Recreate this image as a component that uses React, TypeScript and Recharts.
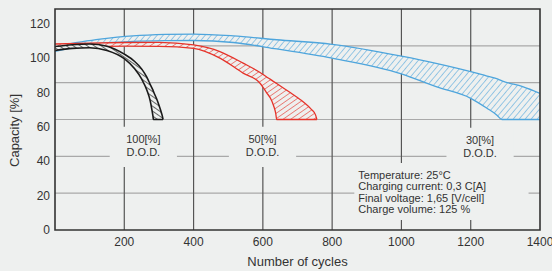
import React from 'react';
import { AreaChart, Area, XAxis, YAxis, CartesianGrid, ReferenceArea } from 'recharts';

const BG = '#eef0ef';
const FONT = '"Liberation Sans", Arial, Helvetica, sans-serif';
const TEXT = '#333333';

// Cycle life bands (capacity % vs number of cycles), lower / upper boundary
const blackCycles = [0, 50, 100, 150, 200, 230, 250, 265, 275, 280, 283, 284, 295, 305, 309, 312];
const blackLow = [97.5, 98.6, 99, 97.5, 93, 87.5, 82, 76, 70, 65, 61.5, 60, 60, 60, 60, 60];
const blackHigh = [99.6, 100.6, 101, 99.8, 95.5, 91.5, 87.5, 83, 79, 77, 75.8, 75.3, 70.5, 65, 62.5, 60];

const redCycles = [0, 100, 200, 300, 400, 476, 543, 592, 611, 622, 631, 637, 640, 680, 717, 740, 752, 756];
const redLow = [98.3, 99.5, 99.8, 99.7, 98.6, 93.3, 85.2, 79.7, 74.5, 71.5, 67.5, 63.5, 60, 60, 60, 60, 60, 60];
const redHigh = [101, 101.5, 101.8, 101.9, 100.5, 96.9, 90.6, 85.5, 83.1, 81.8, 80.6, 79.9, 79.5, 74.5, 69.5, 65.5, 62.5, 60];

const blueCycles = [0, 130, 225, 320, 400, 515, 640, 800, 1000, 1100, 1200, 1247, 1275, 1290, 1350, 1400];
const blueLow = [97, 101.3, 102.4, 102.8, 102.9, 101.8, 98.3, 93.3, 84.8, 77.8, 71.5, 66.1, 62.5, 60, 60, 60];
const blueHigh = [99.8, 103.6, 105.4, 106.2, 106.4, 105.4, 103.3, 100.8, 94.4, 90.5, 86, 83.6, 82.2, 81, 77.8, 74.2];

const xTicks = [200, 400, 600, 800, 1000, 1200, 1400];
const xGrid = [200, 400, 600, 800, 1000, 1200];
const yTicks = [0, 20, 40, 60, 80, 100, 120];
const yGrid = [20, 40, 60, 80, 100];

const label100 = ['100[%]', 'D.O.D.'];
const label50 = ['50[%]', 'D.O.D.'];
const label30 = ['30[%]', 'D.O.D.'];
const conditions = [
  'Temperature: 25°C',
  'Charging current: 0,3 C[A]',
  'Final voltage: 1,65 [V/cell]',
  'Charge volume: 125 %',
];

const build = (xs: number[], lo: number[], hi: number[]) =>
  xs.map((x, i) => ({ x, band: [lo[i], hi[i]] }));

const blackData = build(blackCycles, blackLow, blackHigh);
const redData = build(redCycles, redLow, redHigh);
const blueData = build(blueCycles, blueLow, blueHigh);

const DodLabel = (props: any) => {
  const { viewBox, lines } = props;
  if (!viewBox) return null;
  const { x, y, width } = viewBox;
  const cx = x + width / 2;
  return (
    <text fontSize={11} fill={TEXT} fontFamily={FONT} textAnchor="middle">
      {lines.map((l: string, i: number) => (
        <tspan key={i} x={cx} y={y + 16 + i * 13}>
          {l}
        </tspan>
      ))}
    </text>
  );
};

const CondLabel = (props: any) => {
  const { viewBox, lines } = props;
  if (!viewBox) return null;
  const { x, y } = viewBox;
  return (
    <text fontSize={11} fill={TEXT} fontFamily={FONT} textAnchor="start">
      {lines.map((l: string, i: number) => (
        <tspan key={i} x={x + 4} y={y + 16 + i * 11.5}>
          {l}
        </tspan>
      ))}
    </text>
  );
};

const YTitle = (props: any) => {
  const { viewBox } = props;
  if (!viewBox) return null;
  const cx = Math.max(viewBox.x, 0) + 14;
  const cy = viewBox.y + viewBox.height / 2 + 11;
  return (
    <text
      x={cx}
      y={cy}
      transform={`rotate(-90, ${cx}, ${cy})`}
      textAnchor="middle"
      dominantBaseline="central"
      fontSize={13}
      fill={TEXT}
      fontFamily={FONT}
    >
      Capacity [%]
    </text>
  );
};

export default function App() {
  return (
    <div style={{ position: 'absolute', left: 0, top: 0, width: 552, height: 271, background: BG }}>
      <AreaChart width={552} height={271} margin={{ top: 9, right: 12, left: 0, bottom: 0 }}>
        <defs>
          <pattern id="hatchBlue" width="4.6" height="4.6" patternUnits="userSpaceOnUse" patternTransform="rotate(40)">
            <rect width="4.6" height="4.6" fill={BG} />
            <line x1="0" y1="0" x2="0" y2="4.6" stroke="#4ea5dc" strokeWidth="1.1" />
          </pattern>
          <pattern id="hatchRed" width="4.4" height="4.4" patternUnits="userSpaceOnUse" patternTransform="rotate(55)">
            <rect width="4.4" height="4.4" fill={BG} />
            <line x1="0" y1="0" x2="0" y2="4.4" stroke="#e5332a" strokeWidth="1.1" />
          </pattern>
          <pattern id="hatchBlack" width="4" height="4" patternUnits="userSpaceOnUse" patternTransform="rotate(-55)">
            <rect width="4" height="4" fill={BG} />
            <line x1="0" y1="0" x2="0" y2="4" stroke="#1a1a1a" strokeWidth="1.3" />
          </pattern>
        </defs>
        <CartesianGrid yAxisId="g" vertical={false} horizontalValues={yGrid} stroke="#a9a9a9" strokeWidth={1.2} />
        <CartesianGrid yAxisId="g" horizontal={false} verticalValues={xGrid} stroke="#555555" strokeWidth={1.2} />
        <XAxis
          dataKey="x"
          type="number"
          domain={[0, 1400]}
          allowDataOverflow
          ticks={xTicks}
          interval={0}
          height={41}
          axisLine={false}
          tickLine={false}
          tickSize={0}
          tickMargin={7}
          tick={{ fontSize: 12, fill: TEXT, fontFamily: FONT }}
          label={{ value: 'Number of cycles', position: 'insideBottom', offset: 5, fontSize: 13, fill: TEXT, fontFamily: FONT }}
        />
        <YAxis
          yAxisId="lbl"
          type="number"
          domain={[0, 128.5]}
          allowDataOverflow
          ticks={yTicks}
          interval={0}
          width={55}
          axisLine={false}
          tickLine={false}
          tickSize={0}
          tickMargin={5}
          tick={{ fontSize: 12, fill: TEXT, fontFamily: FONT }}
          label={<YTitle />}
        />
        <YAxis yAxisId="g" type="number" domain={[0, 120]} allowDataOverflow hide width={0} />
        <ReferenceArea yAxisId="g" x1={158} x2={352} y1={34.2} y2={56} fill={BG} fillOpacity={1} stroke="none" label={<DodLabel lines={label100} />} />
        <ReferenceArea yAxisId="g" x1={502} x2={696} y1={34.2} y2={56} fill={BG} fillOpacity={1} stroke="none" label={<DodLabel lines={label50} />} />
        <ReferenceArea yAxisId="g" x1={1130} x2={1324} y1={34.2} y2={55.5} fill={BG} fillOpacity={1} stroke="none" label={<DodLabel lines={label30} />} />
        <ReferenceArea yAxisId="g" x1={864} x2={1367} y1={5.4} y2={36.4} fill={BG} fillOpacity={1} stroke="none" label={<CondLabel lines={conditions} />} />
        <Area
          yAxisId="g"
          data={blueData}
          dataKey="band"
          type="monotone"
          stroke="#4ea5dc"
          strokeWidth={1.3}
          fill="url(#hatchBlue)"
          fillOpacity={1}
          dot={false}
          activeDot={false}
          isAnimationActive={false}
        />
        <Area
          yAxisId="g"
          data={redData}
          dataKey="band"
          type="monotone"
          stroke="#e5332a"
          strokeWidth={1.3}
          fill="url(#hatchRed)"
          fillOpacity={1}
          dot={false}
          activeDot={false}
          isAnimationActive={false}
        />
        <Area
          yAxisId="g"
          data={blackData}
          dataKey="band"
          type="monotone"
          stroke="#1a1a1a"
          strokeWidth={1.6}
          fill="url(#hatchBlack)"
          fillOpacity={1}
          dot={false}
          activeDot={false}
          isAnimationActive={false}
        />
        <ReferenceArea yAxisId="g" x1={0} x2={1400} y1={0} y2={120} fill="none" fillOpacity={0} stroke="#333333" strokeWidth={1.6} />
      </AreaChart>
    </div>
  );
}
